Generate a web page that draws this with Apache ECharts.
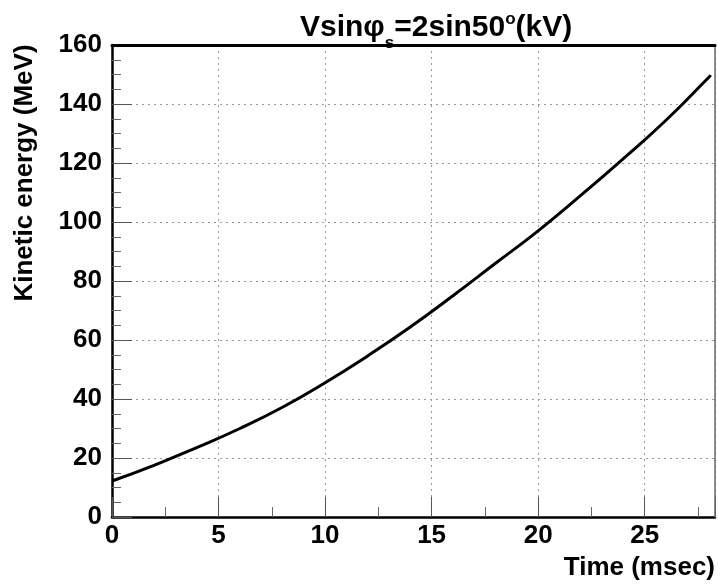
<!DOCTYPE html>
<html>
<head>
<meta charset="utf-8">
<script src="https://cdn.jsdelivr.net/npm/echarts@6/dist/echarts.min.js"></script>
<style>html,body{margin:0;padding:0;background:#fff;}#c{width:718px;height:584px;}</style>
</head>
<body>
<div id="c"></div>
<script>
// Data
const timeMs = [0, 2, 4, 6, 8, 10, 12, 14, 16, 18, 20, 22, 24, 26, 28, 28.1];
const energyMeV = [12.2, 17.6, 23.6, 30.0, 37.2, 45.5, 54.6, 64.4, 75.0, 86.0, 97.0, 109.0, 121.5, 134.5, 149.0, 149.8];
const xTickValues = [0, 5, 10, 15, 20, 25];
const yTickValues = [0, 20, 40, 60, 80, 100, 120, 140, 160];

const FONT = '"Liberation Sans", Arial, Helvetica, sans-serif';
const chart = echarts.init(document.getElementById('c'), null, {renderer: 'canvas'});
const seriesData = timeMs.map((t, i) => [t, energyMeV[i]]);

chart.setOption({
  animation: false,
  backgroundColor: '#fff',
  title: {
    left: 295, top: 6,
    text: '{a|Vsin\u03c6}{sub|s}{a|=2sin50}{sup|o}{a|(kV)}',
    textStyle: {
      rich: {
        a: {fontFamily: FONT, fontWeight: 'bold', fontSize: 30, color: '#000', lineHeight: 34},
        sub: {fontFamily: FONT, fontWeight: 'bold', fontSize: 17, color: '#000', lineHeight: 17, padding: [24, 0, 0, 0], verticalAlign: 'top'},
        sup: {fontFamily: FONT, fontWeight: 'bold', fontSize: 17, color: '#000', lineHeight: 17, padding: [0, 0, 16, 0], verticalAlign: 'top'}
      }
    }
  },
  grid: {left: 112, right: 2, top: 45, bottom: 67, show: false, containLabel: false},
  xAxis: [{
    type: 'value', min: 0, max: 28.3, interval: 5,
    name: 'Time (msec)', nameLocation: 'end', nameGap: 0,
    nameTextStyle: {fontFamily: FONT, fontWeight: 'bold', fontSize: 26, color: '#000', align: 'right', verticalAlign: 'top', padding: [38, 0, 0, 0]},
    axisLine: {show: true, lineStyle: {color: '#000', width: 2.5}},
    axisTick: {show: true, inside: true, length: 20, lineStyle: {color: '#555', width: 1}},
    minorTick: {show: true, splitNumber: 2, length: 10, lineStyle: {color: '#666', width: 1}},
    axisLabel: {fontFamily: FONT, fontWeight: 'bold', fontSize: 26, color: '#000', margin: 6,
      formatter: v => xTickValues.indexOf(v) >= 0 ? String(v) : ''},
    splitLine: {show: true, lineStyle: {color: '#999', type: [2, 4], width: 1}},
    z: 3
  }, {
    type: 'value', min: 0, max: 28.3, position: 'top',
    axisLine: {show: true, onZero: false, lineStyle: {color: '#000', width: 3}},
    axisTick: {show: false}, axisLabel: {show: false}, splitLine: {show: false},
    z: 5
  }],
  yAxis: [{
    type: 'value', min: 0, max: 160, interval: 20,
    name: 'Kinetic energy (MeV)', nameLocation: 'middle', nameGap: 74,
    nameTextStyle: {fontFamily: FONT, fontWeight: 'bold', fontSize: 26, color: '#000', padding: [0, 0, 0, 216]},
    axisLine: {show: true, lineStyle: {color: '#000', width: 2.5}},
    axisTick: {show: true, inside: true, length: 20, lineStyle: {color: '#555', width: 1}},
    minorTick: {show: true, splitNumber: 4, length: 9, lineStyle: {color: '#666', width: 1}},
    axisLabel: {fontFamily: FONT, fontWeight: 'bold', fontSize: 26, color: '#000', margin: 10,
      formatter: v => yTickValues.indexOf(v) >= 0 ? String(v) : ''},
    splitLine: {show: true, lineStyle: {color: '#999', type: [2, 4], width: 1}},
    z: 3
  }, {
    type: 'value', min: 0, max: 160, position: 'right',
    axisLine: {show: true, onZero: false, lineStyle: {color: '#666', width: 1.5}},
    axisTick: {show: false}, axisLabel: {show: false}, splitLine: {show: false},
    z: 5
  }],
  series: [{
    type: 'line', data: seriesData, smooth: true, showSymbol: false,
    xAxisIndex: 0, yAxisIndex: 0,
    lineStyle: {color: '#000', width: 3}
  }]
});
</script>
</body>
</html>
